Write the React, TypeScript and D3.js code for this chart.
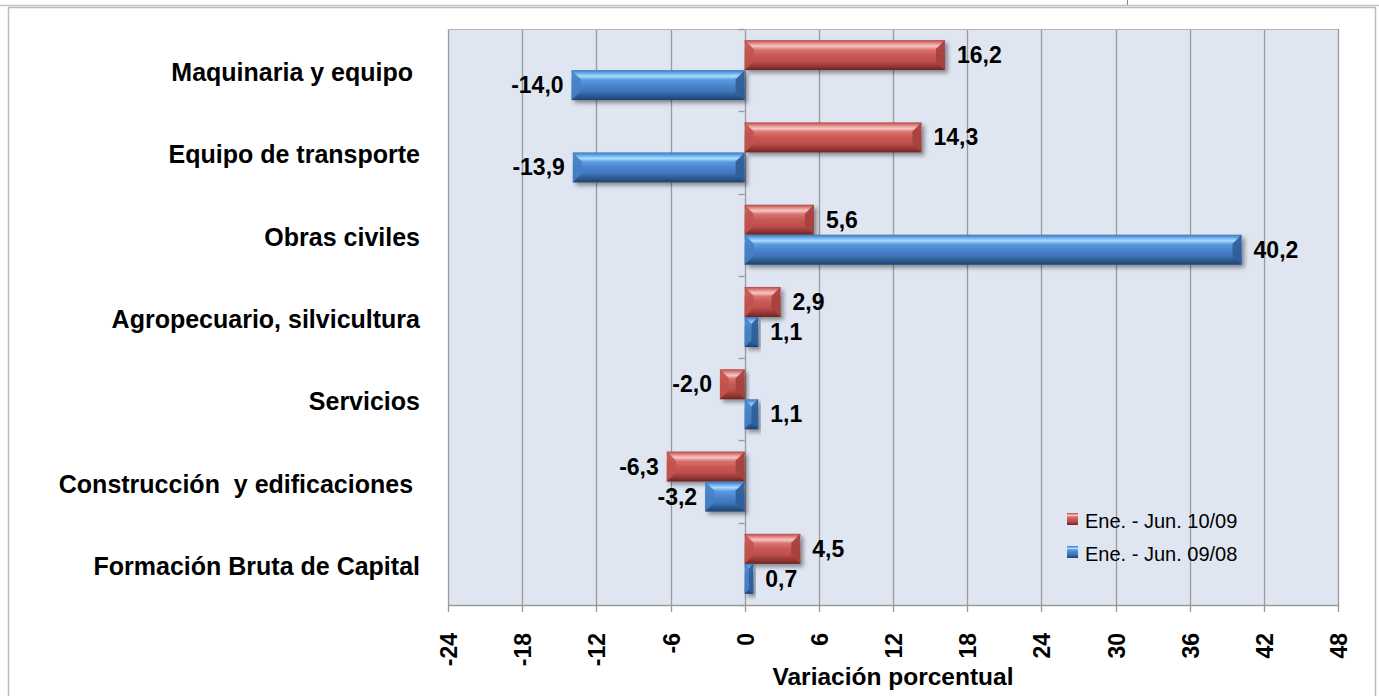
import React from "react";
import * as d3 from "d3";

const categories = [
  "Maquinaria y equipo ",
  "Equipo de transporte",
  "Obras civiles",
  "Agropecuario, silvicultura",
  "Servicios",
  "Construcción  y edificaciones ",
  "Formación Bruta de Capital",
];
const seriesNames = ["Ene. - Jun. 10/09", "Ene. - Jun. 09/08"];
const series1 = [16.2, 14.3, 5.6, 2.9, -2.0, -6.3, 4.5];
const series2 = [-14.0, -13.9, 40.2, 1.1, 1.1, -3.2, 0.7];
const xTicks = [-24, -18, -12, -6, 0, 6, 12, 18, 24, 30, 36, 42, 48];
const axisTitle = "Variación porcentual";

const W = 1379;
const H = 696;
const plot = { left: 448, right: 1338, top: 29, bottom: 605 };
const FONT = "'Liberation Sans', Arial, Helvetica, sans-serif";

const palettes = [
  {
    id: "gRed",
    stops: [
      [0, "#b24a47"], [0.1, "#e08884"], [0.2, "#f7c6c4"], [0.32, "#d9726e"],
      [0.5, "#c85955"], [0.7, "#bd4f4b"], [0.86, "#973835"], [1, "#6c2523"],
    ],
    left: "#c2524e",
    right: "#a5413e",
  },
  {
    id: "gBlue",
    stops: [
      [0, "#3a74ba"], [0.1, "#6aaaea"], [0.2, "#a9deff"], [0.32, "#5b9ae0"],
      [0.5, "#4a86cf"], [0.7, "#3f76ba"], [0.86, "#2b5a92"], [1, "#1e416c"],
    ],
    left: "#4680c7",
    right: "#2f5f9a",
  },
];

function fmt(v: number) {
  return v.toFixed(1).replace(".", ",");
}

function Bar({ x0, x1, y0, h, pal }: any) {
  const w = x1 - x0;
  const y1 = y0 + h;
  const b = Math.min(9, h / 3, w / 2);
  const lp = `${x0},${y0} ${x0 + b},${y0 + b} ${x0 + b},${y1 - b} ${x0},${y1}`;
  const rp = `${x1},${y0} ${x1 - b},${y0 + b} ${x1 - b},${y1 - b} ${x1},${y1}`;
  return (
    <g>
      <g filter="url(#shadow)">
        <rect x={x0} y={y0} width={w} height={h} fill={`url(#${pal.id})`} />
      </g>
      <polygon points={lp} fill={pal.left} opacity={0.9} />
      <polygon points={rp} fill={pal.right} opacity={0.95} />
    </g>
  );
}

export default function App() {
  const x = d3.scaleLinear().domain([-24, 48]).range([plot.left, plot.right]);
  const y = d3.scaleBand<string>().domain(categories).range([plot.top, plot.bottom]).padding(0);
  const y1 = d3
    .scaleBand<string>()
    .domain(seriesNames)
    .range([0, y.bandwidth()])
    .paddingInner(0)
    .paddingOuter(0.37);
  const allSeries = [series1, series2];
  const boundaries = categories.map((c) => y(c) as number).concat([plot.bottom]);

  return (
    <svg
      width={W}
      height={H}
      style={{ position: "absolute", left: 0, top: 0, background: "#fff" }}
      fontFamily={FONT}
    >
      <defs>
        {palettes.map((p) => (
          <linearGradient key={p.id} id={p.id} x1="0" y1="0" x2="0" y2="1">
            {p.stops.map(([o, c]: any, i: number) => (
              <stop key={i} offset={o} stopColor={c} />
            ))}
          </linearGradient>
        ))}
        <filter id="shadow" x="-20%" y="-30%" width="140%" height="170%">
          <feDropShadow dx="3" dy="3" stdDeviation="2.2" floodColor="#000" floodOpacity="0.4" />
        </filter>
      </defs>

      {/* outer frame */}
      <line x1={0} x2={W} y1={5.5} y2={5.5} stroke="#c4c4c4" strokeWidth={1.5} />
      <line x1={1127.5} x2={1127.5} y1={0} y2={5} stroke="#888" />
      <rect x={8.5} y={7.5} width={1367} height={H + 10} fill="#fff" stroke="#bdbdbd" strokeWidth={1.5} />

      {/* plot area */}
      <rect
        x={plot.left}
        y={plot.top}
        width={plot.right - plot.left}
        height={plot.bottom - plot.top}
        fill="#dfe6f2"
      />
      {xTicks.map((t) => (
        <line
          key={t}
          x1={Math.round(x(t)) + 0.5}
          x2={Math.round(x(t)) + 0.5}
          y1={plot.top}
          y2={plot.bottom + 7}
          stroke="#9a9a9a"
          strokeWidth={1.3}
        />
      ))}
      <line x1={plot.left} x2={plot.right} y1={plot.top + 0.5} y2={plot.top + 0.5} stroke="#b5b5b5" />
      <line x1={plot.left} x2={plot.right + 1} y1={plot.bottom + 0.5} y2={plot.bottom + 0.5} stroke="#9a9a9a" strokeWidth={1.5} />
      {/* category ticks on zero axis */}
      {boundaries.map((b, i) => (
        <line
          key={i}
          x1={x(0) - 6}
          x2={x(0)}
          y1={Math.round(b) + 0.5}
          y2={Math.round(b) + 0.5}
          stroke="#9a9a9a"
          strokeWidth={1.3}
        />
      ))}

      {/* bars */}
      {categories.map((c, ci) =>
        allSeries.map((s, si) => {
          const v = s[ci];
          const y0 = (y(c) as number) + (y1(seriesNames[si]) as number);
          const h = y1.bandwidth();
          const xa = Math.min(x(0), x(v));
          const xb = Math.max(x(0), x(v));
          return (
            <Bar key={`${ci}-${si}`} x0={xa} x1={xb} y0={y0} h={h} pal={palettes[si]} />
          );
        })
      )}

      {/* data labels */}
      {categories.map((c, ci) =>
        allSeries.map((s, si) => {
          const v = s[ci];
          const cy = (y(c) as number) + (y1(seriesNames[si]) as number) + y1.bandwidth() / 2;
          const pos = v >= 0;
          return (
            <text
              key={`l${ci}-${si}`}
              x={pos ? x(v) + 12 : x(v) - 8}
              y={cy + 8}
              textAnchor={pos ? "start" : "end"}
              fontSize={23}
              fontWeight="bold"
              fill="#000"
            >
              {fmt(v)}
            </text>
          );
        })
      )}

      {/* category labels */}
      {categories.map((c) => (
        <text
          key={c}
          x={420}
          y={(y(c) as number) + y.bandwidth() / 2 + 11}
          textAnchor="end"
          fontSize={25}
          fontWeight="bold"
          fill="#000"
          style={{ whiteSpace: "pre" }}
        >
          {c}
        </text>
      ))}

      {/* x tick labels */}
      {xTicks.map((t) => (
        <text
          key={`t${t}`}
          transform={`translate(${x(t) + 9},633) rotate(-90)`}
          textAnchor="end"
          fontSize={23}
          fontWeight="bold"
          fill="#000"
        >
          {t}
        </text>
      ))}

      <text
        x={(plot.left + plot.right) / 2}
        y={685}
        textAnchor="middle"
        fontSize={24.5}
        fontWeight="bold"
        fill="#000"
      >
        {axisTitle}
      </text>

      {/* legend */}
      {seriesNames.map((n, i) => (
        <g key={n} transform={`translate(1067,${513 + i * 33})`}>
          <rect x={0} y={0} width={11} height={12} fill={`url(#${palettes[i].id})`} />
          <text x={18} y={15} fontSize={20} fill="#000">
            {n}
          </text>
        </g>
      ))}
    </svg>
  );
}
